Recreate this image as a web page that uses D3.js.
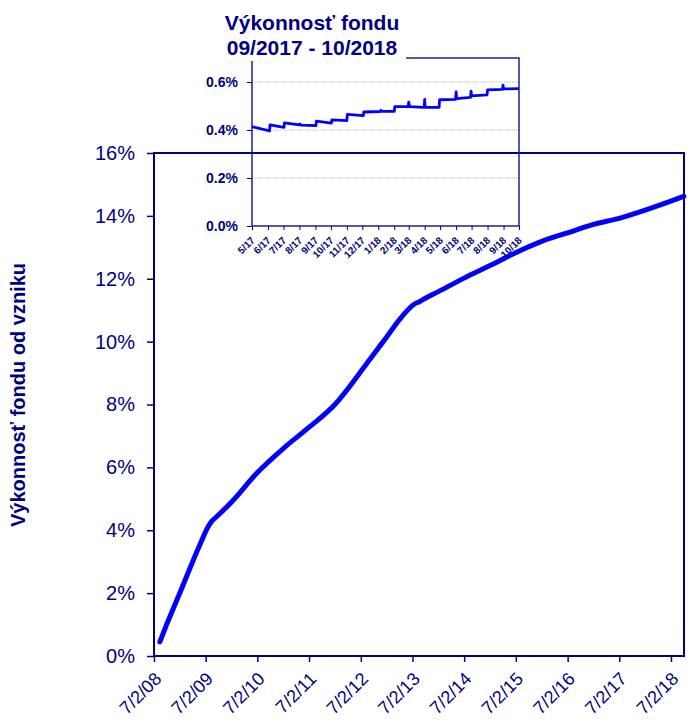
<!DOCTYPE html>
<html>
<head>
<meta charset="utf-8">
<script src="https://cdn.jsdelivr.net/npm/d3@7"></script>
<style>
  body { margin: 0; background: #fff; }
  svg { display: block; font-family: "Liberation Sans", Arial, sans-serif; }
</style>
</head>
<body>
<svg id="chart" width="692" height="722"></svg>
<script>
// main series: fund performance since inception (%)
const mainDates = ["2008-08-12", "2008-10-01", "2009-01-01", "2009-04-01", "2009-06-01", "2009-07-15",
  "2009-08-15", "2009-09-15", "2010-01-01", "2010-07-01", "2011-01-01", "2011-07-01", "2012-01-01", "2012-07-01",
  "2012-10-01", "2013-01-01", "2013-04-01", "2013-07-20", "2013-08-20", "2013-10-01", "2014-01-01",
  "2014-07-01", "2015-01-01", "2015-07-01", "2016-01-01", "2016-07-01", "2017-01-01", "2017-07-01",
  "2018-01-01", "2018-07-01", "2018-10-01"];
const mainValues = [0.45, 1.02, 2.01, 3.0, 3.64, 4.08, 4.29, 4.42, 4.9, 5.83, 6.6, 7.27, 8.0, 9.04,
  9.6, 10.15, 10.7, 11.21, 11.27, 11.38, 11.59, 12.02, 12.42, 12.83, 13.19, 13.46, 13.73, 13.92,
  14.18, 14.47, 14.62];
const mainYTicks = [0, 2, 4, 6, 8, 10, 12, 14, 16];
const mainXTickYears = [2008, 2009, 2010, 2011, 2012, 2013, 2014, 2015, 2016, 2017, 2018];

// inset series: last months (%)
const insetDates = ["2017-05-01", "2017-06-04", "2017-06-05", "2017-07-02", "2017-07-03", "2017-08-01",
  "2017-08-02", "2017-08-04", "2017-09-02", "2017-09-03", "2017-10-02", "2017-10-03", "2017-11-01",
  "2017-11-02", "2017-12-03", "2017-12-04", "2018-01-05", "2018-01-06", "2018-01-08", "2018-02-01",
  "2018-02-02", "2018-02-28", "2018-03-01", "2018-03-03", "2018-03-31", "2018-04-01", "2018-04-02",
  "2018-04-29", "2018-04-30", "2018-05-31", "2018-06-01", "2018-06-02", "2018-06-29", "2018-06-30",
  "2018-07-01", "2018-07-31", "2018-08-01", "2018-08-30", "2018-08-31", "2018-09-01", "2018-10-01"];
const insetValues = [0.414, 0.396, 0.421, 0.411, 0.430, 0.421,
  0.425, 0.420, 0.418, 0.437, 0.429, 0.442, 0.439,
  0.465, 0.460, 0.475, 0.477, 0.482, 0.478, 0.478,
  0.497, 0.498, 0.516, 0.497, 0.494, 0.527, 0.494,
  0.494, 0.526, 0.528, 0.559, 0.531, 0.536, 0.562,
  0.542, 0.546, 0.567, 0.569, 0.587, 0.571, 0.572];
const insetYTicks = [0, 0.2, 0.4, 0.6];
const insetMonths = ["5/17", "6/17", "7/17", "8/17", "9/17", "10/17", "11/17", "12/17", "1/18",
  "2/18", "3/18", "4/18", "5/18", "6/18", "7/18", "8/18", "9/18", "10/18"];

const navy = "#000080";
const blue = "#0000ff";
const parse = d3.timeParse("%Y-%m-%d");
const svg = d3.select("#chart");

// ---------- main chart ----------
const x = d3.scaleTime()
  .domain([parse("2008-07-02"), parse("2018-10-02")])
  .range([154, 684]);
const y = d3.scaleLinear().domain([0, 16]).range([656, 153]);

const mainData = mainDates.map((d, i) => ({ date: parse(d), value: mainValues[i] }));

const xAxis = svg.append("g")
  .attr("transform", "translate(0,656)")
  .call(d3.axisBottom(x)
    .tickValues(mainXTickYears.map(yr => new Date(yr, 6, 2)))
    .tickFormat(d3.timeFormat("%-m/%-d/%y"))
    .tickSize(6));
xAxis.select(".domain").remove();
xAxis.selectAll("line").attr("stroke", navy).attr("stroke-width", 1.5);
xAxis.selectAll("text")
  .attr("fill", navy)
  .attr("font-size", 18)
  .attr("text-anchor", "end")
  .attr("x", 0).attr("y", 0).attr("dy", 0)
  .attr("transform", "translate(8,24) rotate(-45)");

const yAxis = svg.append("g")
  .attr("transform", "translate(154,0)")
  .call(d3.axisLeft(y)
    .tickValues(mainYTicks)
    .tickFormat(d => d + "%")
    .tickSize(7)
    .tickPadding(12));
yAxis.select(".domain").remove();
yAxis.selectAll("line").attr("stroke", navy).attr("stroke-width", 1.5);
yAxis.selectAll("text").attr("fill", navy).attr("font-size", 20);

svg.append("text")
  .attr("transform", "translate(25,395) rotate(-90)")
  .attr("text-anchor", "middle")
  .attr("fill", navy)
  .attr("font-size", 20)
  .attr("font-weight", "bold")
  .text("Výkonnosť fondu od vzniku");

const mainLine = d3.line()
  .x(d => x(d.date))
  .y(d => y(d.value))
  .curve(d3.curveMonotoneX);

svg.append("path")
  .datum(mainData)
  .attr("fill", "none")
  .attr("stroke", blue)
  .attr("stroke-width", 5)
  .attr("stroke-linecap", "round")
  .attr("stroke-linejoin", "round")
  .attr("d", mainLine);

// ---------- inset chart ----------
const ix = d3.scaleTime()
  .domain([parse("2017-05-01"), parse("2018-10-01")])
  .range([252, 519]);
const iy = d3.scaleLinear().domain([0, 0.7]).range([226, 58]);

const insetData = insetDates.map((d, i) => ({ date: parse(d), value: insetValues[i] }));
const monthTicks = insetMonths.map((m, i) => d3.timeMonth.offset(parse("2017-05-01"), i));

// grid lines
svg.append("g")
  .selectAll("line")
  .data(insetYTicks.filter(v => v > 0))
  .join("line")
  .attr("x1", ix.range()[0])
  .attr("x2", ix.range()[1])
  .attr("y1", d => iy(d))
  .attr("y2", d => iy(d))
  .attr("stroke", "#b8b8b8")
  .attr("stroke-width", 1)
  .attr("stroke-dasharray", "1,1");

const ixAxis = svg.append("g")
  .attr("transform", "translate(0,226)")
  .call(d3.axisBottom(ix)
    .tickValues(monthTicks)
    .tickFormat((d, i) => insetMonths[i])
    .tickSize(4));
ixAxis.select(".domain").remove();
ixAxis.selectAll("line").attr("stroke", navy);
ixAxis.selectAll("text")
  .attr("fill", navy)
  .attr("font-size", 10)
  .attr("font-weight", "bold")
  .attr("text-anchor", "end")
  .attr("x", 0).attr("y", 0).attr("dy", 0)
  .attr("transform", "translate(3,15) rotate(-45)");

const iyAxis = svg.append("g")
  .attr("transform", "translate(252,0)")
  .call(d3.axisLeft(iy)
    .tickValues(insetYTicks)
    .tickFormat(d => d3.format(".1f")(d) + "%")
    .tickSize(5)
    .tickPadding(9));
iyAxis.select(".domain").remove();
iyAxis.selectAll("line").attr("stroke", navy);
iyAxis.selectAll("text")
  .attr("fill", navy)
  .attr("font-size", 14)
  .attr("font-weight", "bold");

svg.append("rect")
  .attr("x", 252).attr("y", 58)
  .attr("width", 519 - 252).attr("height", 226 - 58)
  .attr("fill", "none")
  .attr("stroke", navy)
  .attr("stroke-width", 1.3);

const insetLine = d3.line()
  .x(d => ix(d.date))
  .y(d => iy(d.value));

svg.append("path")
  .datum(insetData)
  .attr("fill", "none")
  .attr("stroke", blue)
  .attr("stroke-width", 2.8)
  .attr("stroke-linejoin", "round")
  .attr("d", insetLine);

// inset title on white background
svg.append("rect")
  .attr("x", 216).attr("y", 4)
  .attr("width", 190).attr("height", 57)
  .attr("fill", "#fff");
const title = svg.append("text")
  .attr("text-anchor", "middle")
  .attr("fill", navy)
  .attr("font-size", 21)
  .attr("font-weight", "bold");
title.append("tspan").attr("x", 312).attr("y", 30).text("Výkonnosť fondu");
title.append("tspan").attr("x", 312).attr("y", 55).text("09/2017 - 10/2018");

// main frame drawn last so its top edge crosses the inset
svg.append("rect")
  .attr("x", 154).attr("y", 153)
  .attr("width", 684 - 154).attr("height", 656 - 153)
  .attr("fill", "none")
  .attr("stroke", navy)
  .attr("stroke-width", 2);
</script>
</body>
</html>
